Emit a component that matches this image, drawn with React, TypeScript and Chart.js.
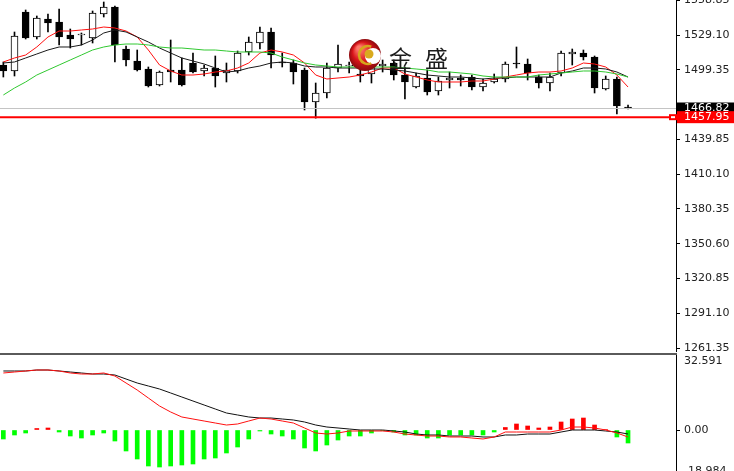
import React, { useEffect, useRef } from 'react';
import { Chart, registerables } from 'chart.js';
Chart.register(...registerables);

// ---- price candles (57 bars) ----
const OPEN = [1503.44, 1498.31, 1548.78, 1527.39, 1542.79, 1540.22, 1529.10, 1529.10, 1526.53, 1547.06,
  1553.05, 1517.13, 1506.86, 1500.02, 1486.33, 1499.16, 1499.16, 1505.15, 1498.31, 1500.87,
  1496.60, 1498.31, 1514.56, 1522.26, 1531.67, 1506.01, 1505.15, 1499.16, 1471.79, 1479.49,
  1500.87, 1502.58, 1495.74, 1495.74, 1502.58, 1505.15, 1494.88, 1484.62, 1492.32, 1481.20,
  1490.61, 1492.32, 1493.17, 1484.62, 1488.90, 1491.46, 1505.15, 1504.29, 1493.17, 1488.04,
  1496.60, 1512.85, 1513.70, 1510.28, 1482.91, 1491.46, 1467.51];
const HIGH = [1506.01, 1531.67, 1550.49, 1545.35, 1547.06, 1551.34, 1534.23, 1530.81, 1549.63, 1557.33,
  1553.91, 1519.69, 1516.27, 1501.73, 1498.31, 1524.82, 1509.43, 1513.70, 1503.44, 1511.14,
  1505.15, 1515.41, 1527.39, 1535.94, 1535.09, 1513.70, 1507.72, 1500.87, 1488.04, 1505.15,
  1520.55, 1506.01, 1500.87, 1507.72, 1507.72, 1507.72, 1501.73, 1496.60, 1499.16, 1493.17,
  1497.45, 1494.88, 1494.88, 1491.46, 1495.74, 1506.01, 1518.84, 1508.57, 1494.88, 1496.60,
  1515.41, 1517.13, 1516.27, 1511.14, 1494.03, 1493.17, 1469.22];
const LOW = [1493.17, 1494.03, 1525.68, 1525.68, 1531.67, 1520.55, 1517.98, 1520.55, 1522.26, 1544.50,
  1506.01, 1502.58, 1498.31, 1484.62, 1485.48, 1488.90, 1485.48, 1496.60, 1494.03, 1484.62,
  1488.90, 1496.60, 1511.99, 1517.13, 1500.87, 1501.73, 1487.19, 1464.95, 1457.95, 1475.21,
  1497.45, 1496.60, 1488.90, 1488.04, 1497.45, 1490.61, 1474.36, 1483.76, 1477.78, 1477.78,
  1483.76, 1485.48, 1482.05, 1481.20, 1488.04, 1488.90, 1500.87, 1490.61, 1483.76, 1481.20,
  1494.03, 1503.44, 1507.72, 1479.49, 1482.05, 1461.52, 1465.80];
const CLOSE = [1498.31, 1528.25, 1526.53, 1543.64, 1539.37, 1527.39, 1525.68, 1529.96, 1547.92, 1553.05,
  1520.55, 1507.72, 1499.16, 1485.48, 1497.45, 1497.45, 1486.33, 1497.45, 1500.87, 1494.03,
  1499.16, 1513.70, 1523.11, 1531.67, 1511.99, 1505.15, 1497.45, 1471.79, 1479.49, 1500.87,
  1504.29, 1503.44, 1494.03, 1505.15, 1504.29, 1494.88, 1488.90, 1494.03, 1480.34, 1489.75,
  1492.32, 1490.61, 1484.62, 1488.04, 1491.46, 1504.29, 1504.29, 1496.60, 1488.04, 1493.17,
  1513.70, 1514.56, 1510.28, 1483.76, 1491.46, 1468.37, 1466.82];

// ---- moving averages ----
const MA_RED = [1506.01, 1509.43, 1511.99, 1518.84, 1527.39, 1532.52, 1532.52, 1533.38, 1534.23, 1535.94,
  1535.09, 1532.52, 1527.39, 1516.27, 1503.44, 1498.31, 1494.88, 1494.88, 1495.74, 1497.45,
  1498.31, 1500.87, 1505.15, 1513.70, 1516.27, 1514.56, 1511.99, 1505.15, 1494.88, 1491.46,
  1492.32, 1493.17, 1494.88, 1497.45, 1500.87, 1500.87, 1495.74, 1493.17, 1490.61, 1488.90,
  1488.90, 1488.90, 1489.75, 1489.75, 1491.46, 1493.17, 1494.88, 1496.60, 1497.45, 1497.45,
  1498.31, 1500.87, 1505.15, 1504.29, 1501.73, 1494.88, 1484.62];
const MA_BLACK = [1505.15, 1506.01, 1509.43, 1512.85, 1516.27, 1518.84, 1518.84, 1520.55, 1524.82, 1530.81,
  1533.38, 1531.67, 1527.39, 1523.11, 1517.98, 1513.70, 1509.43, 1506.86, 1504.29, 1500.87,
  1497.45, 1498.31, 1500.87, 1502.58, 1505.15, 1506.01, 1505.15, 1502.58, 1501.73, 1501.73,
  1500.87, 1500.87, 1500.87, 1500.02, 1500.02, 1499.16, 1498.31, 1496.60, 1494.88, 1494.03,
  1493.17, 1493.17, 1492.32, 1491.46, 1492.32, 1492.32, 1493.17, 1493.17, 1493.17, 1493.17,
  1496.60, 1498.31, 1500.87, 1500.87, 1500.02, 1497.45, 1493.17];
const MA_GREEN = [1477.78, 1483.76, 1488.90, 1494.88, 1499.16, 1503.44, 1507.72, 1511.99, 1516.27, 1518.84,
  1520.55, 1521.40, 1521.40, 1520.55, 1518.84, 1517.98, 1517.98, 1517.13, 1516.27, 1516.27,
  1515.41, 1514.56, 1514.56, 1514.56, 1513.70, 1510.28, 1507.72, 1505.15, 1503.44, 1502.58,
  1501.73, 1501.73, 1501.73, 1501.73, 1501.73, 1501.73, 1500.87, 1500.02, 1499.16, 1497.45,
  1497.45, 1496.60, 1495.74, 1494.03, 1493.17, 1493.17, 1493.17, 1493.17, 1494.88, 1495.74,
  1496.60, 1497.45, 1498.31, 1498.31, 1497.45, 1495.74, 1493.17];

// ---- MACD panel ----
const MACD_HIST = [-3.91, -2.17, -1.30, 0.65, 0.87, -0.87, -2.61, -3.48, -2.17, -1.30,
  -4.78, -9.12, -12.60, -15.64, -16.08, -15.64, -15.21, -14.77, -12.60, -12.17,
  -9.99, -7.39, -3.91, -0.43, -1.74, -2.61, -3.91, -7.82, -9.12, -6.52,
  -4.35, -2.61, -2.61, -1.30, -0.22, -0.87, -2.17, -2.17, -3.48, -3.48,
  -2.17, -2.17, -2.17, -2.17, -0.87, 1.09, 2.61, 1.74, 0.87, 1.30,
  3.48, 4.78, 5.21, 2.17, 0.20, -3.04, -5.65];
const MACD_MAIN = [25.64, 25.64, 25.64, 26.07, 26.07, 25.64, 25.20, 24.77, 24.33, 24.33,
  23.90, 22.16, 20.42, 19.12, 17.81, 16.08, 14.34, 12.60, 10.86, 9.12,
  7.39, 6.52, 5.65, 5.21, 5.21, 4.78, 4.35, 3.48, 2.17, 1.30,
  0.87, 0.43, 0, 0, 0, -0.43, -0.87, -1.74, -2.17, -2.17,
  -2.61, -2.61, -2.61, -3.04, -3.04, -2.17, -2.17, -1.74, -1.74, -1.74,
  -0.87, 0, 0, 0, -0.43, -0.87, -1.74];
const MACD_SIGNAL = [24.77, 25.20, 25.64, 26.07, 26.07, 25.64, 24.77, 24.33, 24.33, 24.77,
  23.46, 20.42, 17.38, 13.90, 10.43, 7.82, 5.65, 4.78, 3.91, 3.04,
  2.17, 2.61, 3.91, 5.21, 4.78, 3.91, 3.04, 0.87, -1.30, -1.74,
  -1.30, -0.43, -0.43, -0.43, -0.43, -0.87, -1.74, -2.17, -2.61, -2.61,
  -3.04, -3.04, -3.48, -3.91, -3.04, -0.87, -0.87, -0.87, -0.87, -0.87,
  0, 1.30, 1.30, 0.87, 0, -1.30, -3.04];

const PRICE_TICKS = [1558.85, 1529.10, 1499.35, 1439.85, 1410.10, 1380.35, 1350.60, 1320.85, 1291.10, 1261.35];
const BID = 1466.82;
const LEVEL = 1457.95;
const MACD_TOP = 32.591;
const MACD_BOTTOM = -18.984;
const WATERMARK = ['金', '盛'];

const FONT = '"DejaVu Sans", sans-serif';
const AXIS_W = 58;
const X_MIN = -0.3;
const X_MAX = 60.3;

const idx = OPEN.map((_, i) => i);

function priceAxis(min: number, max: number, ticks: number[], fmt: (v: number) => string) {
  return {
    position: 'right',
    min, max,
    afterFit: (s: any) => { s.width = AXIS_W; s.paddingTop = 0; s.paddingBottom = 0; },
    afterBuildTicks: (s: any) => { s.ticks = ticks.map(v => ({ value: v })); },
    ticks: { autoSkip: false, color: '#222', font: { family: FONT, size: 11 }, padding: 4, callback: (v: any) => fmt(Number(v)) },
    grid: { display: true, drawOnChartArea: false, drawTicks: true, tickLength: 4, color: '#000', lineWidth: 1 },
    border: { display: true, color: '#000', width: 1 },
  };
}

const mainPlugin = {
  id: 'mainDecor',
  afterDraw(chart: any) {
    const ctx = chart.ctx;
    const sy = chart.scales.y;
    const right = chart.chartArea.right;
    ctx.save();
    // watermark logo
    const cx = 365, cy = 55, r = 16;
    const g = ctx.createRadialGradient(cx - 6, cy - 7, 2, cx, cy, r);
    g.addColorStop(0, '#ff7a6a');
    g.addColorStop(0.55, '#d8141a');
    g.addColorStop(1, '#8c0a0e');
    ctx.fillStyle = g;
    ctx.beginPath(); ctx.arc(cx, cy, r, 0, Math.PI * 2); ctx.fill();
    ctx.fillStyle = '#ffffff';
    ctx.beginPath(); ctx.arc(cx + 8, cy + 1, 8, 0, Math.PI * 2); ctx.fill();
    ctx.strokeStyle = '#d6a51c'; ctx.lineWidth = 2.5;
    ctx.beginPath(); ctx.arc(cx + 3, cy, 9, -1.2, 1.2, true); ctx.stroke();
    ctx.fillStyle = '#d9aa1e';
    ctx.beginPath(); ctx.arc(cx + 4, cy - 1, 4.5, 0, Math.PI * 2); ctx.fill();
    ctx.fillStyle = '#1c1c1c';
    ctx.font = '23px "Noto Sans CJK SC", sans-serif';
    ctx.textBaseline = 'middle';
    ctx.textAlign = 'left';
    ctx.fillText(WATERMARK[0], 389, 58);
    ctx.fillText(WATERMARK[1], 425, 58);

    // bid line
    const yb = Math.round(sy.getPixelForValue(BID)) + 0.5;
    ctx.strokeStyle = '#c4c4c4'; ctx.lineWidth = 1;
    ctx.beginPath(); ctx.moveTo(0, yb); ctx.lineTo(right, yb); ctx.stroke();
    // level line
    const yl = sy.getPixelForValue(LEVEL) - 1;
    ctx.strokeStyle = '#ff0000'; ctx.lineWidth = 2;
    ctx.beginPath(); ctx.moveTo(0, yl); ctx.lineTo(right, yl); ctx.stroke();
    ctx.fillStyle = '#ff0000'; ctx.fillRect(669, yl - 3, 8, 6);
    ctx.fillStyle = '#ffffff'; ctx.fillRect(671, yl - 1, 4, 2);

    // axis labels
    ctx.font = `11px ${FONT}`;
    ctx.fillStyle = '#000'; ctx.fillRect(right + 1, yb - 6, 734 - right, 11);
    ctx.fillStyle = '#fff'; ctx.fillText(BID.toFixed(2), 684, yb);
    ctx.fillStyle = '#ff0000'; ctx.fillRect(right + 1, yl - 6, 734 - right, 12);
    ctx.fillStyle = '#fff'; ctx.fillText(LEVEL.toFixed(2), 684, yl);
    ctx.restore();
  },
};

const macdPlugin = {
  id: 'macdDecor',
  afterDraw(chart: any) {
    const ctx = chart.ctx;
    const right = chart.chartArea.right;
    ctx.save();
    ctx.fillStyle = '#5a5a5a';
    ctx.fillRect(0, 1, right + 1, 2);
    ctx.fillStyle = '#222';
    ctx.font = `11px ${FONT}`;
    ctx.textBaseline = 'middle';
    ctx.textAlign = 'left';
    ctx.fillText(MACD_TOP.toFixed(3), 684, 9);
    ctx.fillText(MACD_BOTTOM.toFixed(3), 684, 119);
    ctx.restore();
  },
};

export default function App() {
  const mainRef = useRef<HTMLCanvasElement>(null);
  const macdRef = useRef<HTMLCanvasElement>(null);

  useEffect(() => {
    const pxPerUnit = 0.8554;
    const yMax = 1559.04;
    const mainH = 352;
    const yMin = yMax - mainH * pxPerUnit;

    const bodies = idx.map(i => ({ x: i, y: [Math.min(OPEN[i], CLOSE[i]), Math.max(OPEN[i], CLOSE[i])] }));
    const wicks = idx.map(i => ({ x: i, y: [LOW[i], HIGH[i]] }));
    const bodyColors = idx.map(i => (CLOSE[i] >= OPEN[i] ? '#ffffff' : '#000000'));
    const line = (arr: number[], color: string) => ({
      type: 'line', data: idx.map(i => ({ x: i, y: arr[i] })), borderColor: color, borderWidth: 1,
      pointRadius: 0, tension: 0, fill: false, order: 0,
    });

    const main = new Chart(mainRef.current as HTMLCanvasElement, {
      type: 'bar',
      data: {
        datasets: [
          line(MA_GREEN, '#30c830'),
          line(MA_BLACK, '#1a1a1a'),
          line(MA_RED, '#ff1010'),
          { type: 'bar', data: bodies, backgroundColor: bodyColors, borderColor: '#000', borderWidth: 1,
            borderSkipped: false, barThickness: 7, grouped: false, order: 1 },
          { type: 'bar', data: wicks, backgroundColor: '#000', borderWidth: 0, barThickness: 1, grouped: false, order: 2 },
        ] as any,
      },
      options: {
        responsive: false, animation: false, devicePixelRatio: 1,
        layout: { padding: 0, autoPadding: false } as any,
        plugins: { legend: { display: false }, tooltip: { enabled: false } },
        scales: {
          x: { type: 'linear', min: X_MIN, max: X_MAX, display: false, offset: false },
          y: priceAxis(yMin, yMax, PRICE_TICKS, v => v.toFixed(2)) as any,
        },
      },
      plugins: [mainPlugin],
    } as any);

    const zeroY = 78 - 3; // px from chart top to zero
    const macdPx = MACD_TOP / zeroY;
    const macdMin = -(119 - 78) * macdPx;
    const macd = new Chart(macdRef.current as HTMLCanvasElement, {
      type: 'bar',
      data: {
        datasets: [
          { type: 'line', data: idx.map(i => ({ x: i, y: MACD_SIGNAL[i] })), borderColor: '#ff1010', borderWidth: 1, pointRadius: 0, tension: 0, order: 0 },
          { type: 'line', data: idx.map(i => ({ x: i, y: MACD_MAIN[i] })), borderColor: '#111', borderWidth: 1, pointRadius: 0, tension: 0, order: 0 },
          { type: 'bar', data: idx.map(i => ({ x: i, y: MACD_HIST[i] })),
            backgroundColor: idx.map(i => (MACD_HIST[i] >= 0 ? '#ff0000' : '#00ff00')),
            borderWidth: 0, barThickness: 4, grouped: false, order: 1 },
        ] as any,
      },
      options: {
        responsive: false, animation: false, devicePixelRatio: 1,
        layout: { padding: { top: 3, bottom: 0, left: 0, right: 0 }, autoPadding: false } as any,
        plugins: { legend: { display: false }, tooltip: { enabled: false } },
        scales: {
          x: { type: 'linear', min: X_MIN, max: X_MAX, display: false, offset: false },
          y: priceAxis(macdMin, MACD_TOP, [0], v => v.toFixed(2)) as any,
        },
      },
      plugins: [macdPlugin],
    } as any);

    return () => { main.destroy(); macd.destroy(); };
  }, []);

  return (
    <div style={{ position: 'fixed', left: 0, top: 0, width: 734, height: 471, background: '#fff', overflow: 'hidden' }}>
      <canvas ref={mainRef} width={734} height={352} style={{ position: 'absolute', left: 0, top: 0, width: 734, height: 352 }} />
      <canvas ref={macdRef} width={734} height={119} style={{ position: 'absolute', left: 0, top: 352, width: 734, height: 119 }} />
    </div>
  );
}
